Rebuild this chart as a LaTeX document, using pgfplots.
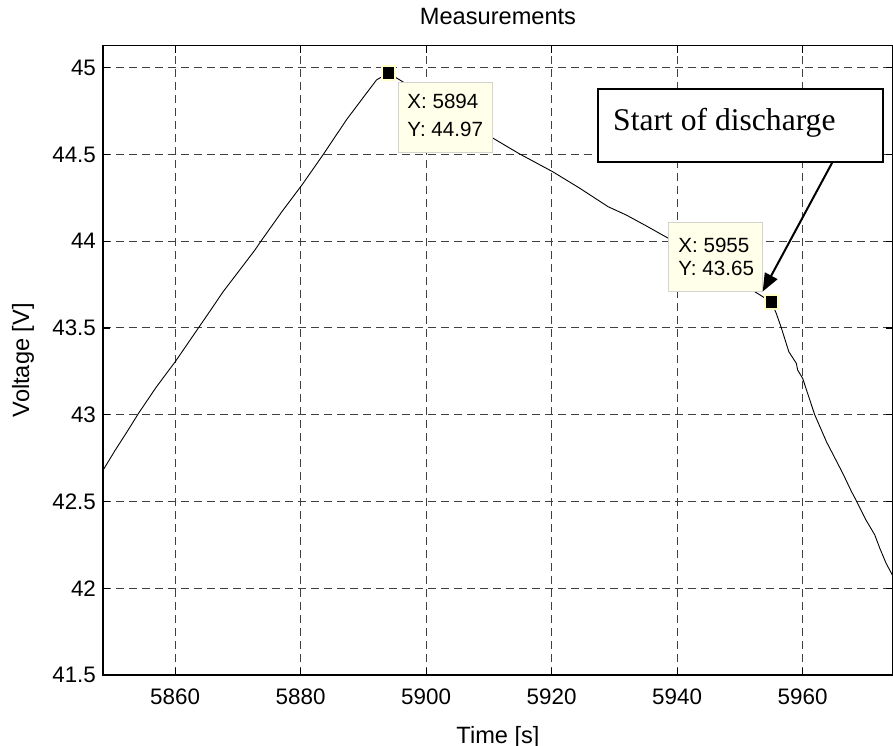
\documentclass[border=0pt]{standalone}
\usepackage{pgfplots}
\pgfplotsset{compat=1.18}
\usepackage{fontspec}
\setmainfont{Liberation Sans}
\newfontfamily\seriffont{Liberation Serif}
\usetikzlibrary{arrows.meta,calc}
\definecolor{tipfill}{RGB}{255,255,234}
\definecolor{tipedge}{RGB}{212,212,204}
\definecolor{markedge}{RGB}{255,255,200}

\pgfplotstableread{
x y
5848.5 42.68
5850.45 42.796
5852.3 42.90
5854.16 43.008
5857.0 43.16
5860.0 43.305
5863.7 43.50
5865.6 43.60
5867.64 43.709
5870.2 43.83
5872.7 43.949
5873.8 44.007
5877.0 44.17
5880.2 44.324
5883.6 44.50
5887.3 44.70
5890.0 44.83
5892.1 44.93
5894.0 44.97
5902.0 44.79
5910.7 44.593
5914.9 44.503
5920.2 44.40
5924.5 44.305
5929.0 44.199
5931.9 44.151
5935.0 44.09
5938.6 44.017
5943.0 43.92
5947.0 43.83
5951.0 43.74
5955.0 43.65
5955.8 43.584
5956.6 43.501
5957.8 43.363
5959.0 43.296
5959.2 43.258
5960.0 43.21
5961.9 43.002
5963.8 42.844
5965.0 42.76
5966.4 42.662
5967.8 42.556
5968.5 42.508
5970.1 42.393
5971.5 42.307
5972.3 42.23
5973.3 42.144
5974.3 42.076
}\curvedata

\begin{document}
\begin{tikzpicture}
\begin{axis}[
  scale only axis, width=395pt, height=314.65pt,
  xmin=5848.5, xmax=5974.4, ymin=41.5, ymax=45.127,
  xtick={5860,5880,...,5960}, ytick={41.5,42,...,45},
  /pgf/number format/assume math mode=true,
  ticklabel style={font=\fontsize{11.2}{13}\selectfont},
  xticklabel style={yshift=-3.3pt, /pgf/number format/1000 sep={}},
  yticklabel style={/pgf/number format/fixed},
  tick align=inside, major tick length=3.5pt,
  tick style={black, line width=0.6pt},
  axis line style={black, line width=0.6pt},
  grid=major,
  grid style={dash pattern=on 4pt off 2.5pt, black!75, line width=0.5pt},
  title={Measurements},
  title style={at={(axis description cs:0.5,1)}, anchor=base, yshift=4.35pt, font=\fontsize{11.8}{14}\selectfont},
  xlabel={Time [s]},
  xlabel style={at={(axis description cs:0.5,0)}, anchor=base, yshift=-34pt, font=\fontsize{11.8}{14}\selectfont},
  ylabel={Voltage [V]},
  ylabel style={at={(axis description cs:-0.1013,0.5)}, anchor=center, font=\fontsize{11.8}{14}\selectfont},
]
\addplot[black, line width=0.45pt] table[x=x,y=y] {\curvedata};

% data tip 1
\draw[tipedge, fill=tipfill, line width=0.5pt] ([shift={(5pt,-4.8pt)}]axis cs:5894,44.97) rectangle ++(47pt,-35pt);
\node[anchor=base west, inner sep=0, font=\fontsize{10.3}{12}\selectfont] at ([shift={(9.25pt,-18pt)}]axis cs:5894,44.97) {X: 5894};
\node[anchor=base west, inner sep=0, font=\fontsize{10.3}{12}\selectfont] at ([shift={(9.25pt,-32pt)}]axis cs:5894,44.97) {Y: 44.97};

% data tip 2
\draw[tipedge, fill=tipfill, line width=0.5pt] ([shift={(-51.3pt,39.6pt)}]axis cs:5955,43.65) rectangle ([shift={(-4.45pt,5.1pt)}]axis cs:5955,43.65);
\node[anchor=base west, inner sep=0, font=\fontsize{10.3}{12}\selectfont] at ([shift={(-46.65pt,24.9pt)}]axis cs:5955,43.65) {X: 5955};
\node[anchor=base west, inner sep=0, font=\fontsize{10.3}{12}\selectfont] at ([shift={(-46.65pt,13.45pt)}]axis cs:5955,43.65) {Y: 43.65};

\addplot[only marks, mark=square*, mark size=3.3pt, mark options={fill=black, draw=markedge, line width=1pt}] coordinates {(5894,44.97) (5955,43.65)};

% annotation
\draw[black, line width=1pt, fill=white] (axis cs:5927.36,44.877) rectangle (axis cs:5972.74,44.4565);
\node[anchor=base west, inner sep=0, font=\seriffont\fontsize{15.8}{18}\selectfont] at (axis cs:5929.75,44.641) {Start of discharge};
\draw[black, line width=1pt, -{Triangle[length=9pt,width=7pt]}] (axis cs:5964.78,44.458) -- (axis cs:5953.63,43.71);
\end{axis}
\pgfresetboundingbox
\useasboundingbox ($(current axis.south west)+(-51.5pt,-35pt)$) rectangle ($(current axis.north east)+(0pt,22.85pt)$);
\end{tikzpicture}
\end{document}
